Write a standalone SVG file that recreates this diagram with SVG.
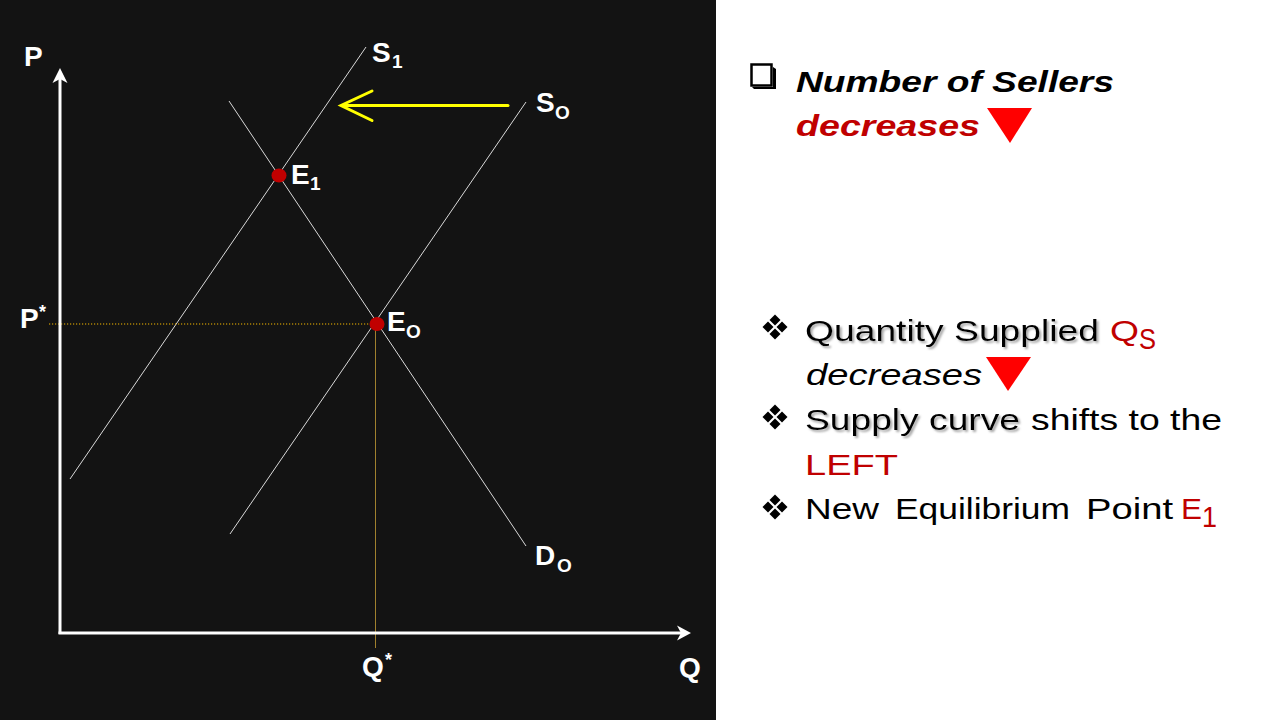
<svg xmlns="http://www.w3.org/2000/svg" width="1280" height="720" viewBox="0 0 1280 720">
  <defs>
    <style>
      .lbl { font-family: "Liberation Sans", Arial, sans-serif; font-weight: bold; fill: #ffffff; font-size: 28px; }
      .sub { font-size: 19px; }
      .star { font-size: 18px; }
      .curve { stroke: #d9d9d9; stroke-width: 1; fill: none; }
      .axis { stroke: #ffffff; stroke-width: 3; fill: none; }
      .txt { font-family: "Liberation Sans", Arial, sans-serif; font-size: 30px; fill: #000000; }
      .red { fill: #c00000; }
      .dot { fill: #c00000; }
    </style>
    <filter id="shadow" x="-5%" y="-20%" width="110%" height="150%">
      <feDropShadow dx="2" dy="2" stdDeviation="1" flood-color="#808080" flood-opacity="0.7"/>
    </filter>
    <g id="bullet">
      <polygon points="0,-12.5 5.5,-7 0,-1.5 -5.5,-7"/>
      <polygon points="-7,-5.5 -1.5,0 -7,5.5 -12.5,0"/>
      <polygon points="7,-5.5 12.5,0 7,5.5 1.5,0"/>
      <polygon points="0,1.5 5.5,7 0,12.5 -5.5,7"/>
    </g>
  </defs>

  <rect x="0" y="0" width="1280" height="720" fill="#ffffff"/>
  <rect id="chart-bg" x="0" y="0" width="716" height="720" fill="#131313"/>

  <g id="connectors">
    <line class="curve" id="S1" x1="70" y1="479" x2="366" y2="47"/>
    <line class="curve" id="S0" x1="230" y1="534" x2="526" y2="102"/>
    <line class="curve" id="D0" x1="229" y1="101" x2="526" y2="546"/>
    <line x1="49" y1="324" x2="377" y2="324" stroke="#f5b800" stroke-width="1.2" stroke-dasharray="1.2,1.8"/>
    <line x1="375.5" y1="324" x2="375.5" y2="648" stroke="#a0802e" stroke-width="1"/>
    <line class="axis" x1="60" y1="634" x2="60" y2="76"/>
    <path d="M60,68 L52.5,83 L60,79 L67.5,83 Z" fill="#ffffff"/>
    <line class="axis" x1="58.5" y1="633" x2="684" y2="633"/>
    <path d="M691,633 L677,625.5 L681,633 L677,640.5 Z" fill="#ffffff"/>
    <g id="shift-arrow" stroke="#ffff00" stroke-width="3" fill="none" stroke-linecap="round">
      <line x1="508" y1="105.5" x2="342" y2="105.5"/>
      <polyline points="372,91 341,105.5 372,120.5"/>
    </g>
  </g>

  <g id="E1">
    <ellipse class="dot" cx="279" cy="175.5" rx="7.5" ry="7"/>
    <text class="lbl" x="291" y="184">E<tspan class="sub" x="310" y="190">1</tspan></text>
  </g>
  <g id="E0">
    <ellipse class="dot" cx="377" cy="324" rx="7.5" ry="7"/>
    <text class="lbl" x="387" y="331">E<tspan class="sub" x="406" y="338">O</tspan></text>
  </g>
  <g id="label-P"><text class="lbl" x="24" y="66">P</text></g>
  <g id="label-S1"><text class="lbl" x="372" y="62">S<tspan class="sub" x="392" y="68">1</tspan></text></g>
  <g id="label-S0"><text class="lbl" x="536" y="112">S<tspan class="sub" x="555" y="119">O</tspan></text></g>
  <g id="label-D0"><text class="lbl" x="535" y="565">D<tspan class="sub" x="557" y="572">O</tspan></text></g>
  <g id="label-Pstar"><text class="lbl" x="20" y="328">P<tspan class="star" x="39" y="318">*</tspan></text></g>
  <g id="label-Qstar"><text class="lbl" x="362" y="676">Q<tspan class="star" x="385" y="666">*</tspan></text></g>
  <g id="label-Q"><text class="lbl" x="679" y="677">Q</text></g>

  <g id="heading">
    <rect x="751.5" y="64.5" width="20" height="21" fill="none" stroke="#000" stroke-width="2.5"/>
    <polygon points="773,67 776,69 776,89 754,89 752,87 773,87" fill="#000"/>
    <text class="txt" x="796" y="92" font-weight="bold" font-style="italic" textLength="318" lengthAdjust="spacingAndGlyphs">Number of Sellers</text>
    <text class="txt red" x="796" y="136" font-weight="bold" font-style="italic" textLength="184" lengthAdjust="spacingAndGlyphs">decreases</text>
    <polygon points="987,108 1032,108 1010,143" fill="#ff0000"/>
  </g>

  <g id="point-1">
    <use href="#bullet" x="775" y="327"/>
    <text class="txt" x="805" y="341" filter="url(#shadow)" textLength="294" lengthAdjust="spacingAndGlyphs">Quantity Supplied</text>
    <text class="txt red" x="1110" y="341" textLength="29" lengthAdjust="spacingAndGlyphs">Q</text>
    <text class="txt red" x="1139" y="349" font-size="20" textLength="17" lengthAdjust="spacingAndGlyphs">S</text>
    <text class="txt" x="806" y="385" font-style="italic" textLength="176" lengthAdjust="spacingAndGlyphs">decreases</text>
    <polygon points="986,357 1031,357 1008,391" fill="#ff0000"/>
  </g>
  <g id="point-2">
    <use href="#bullet" x="775" y="417"/>
    <text class="txt" x="805" y="430" filter="url(#shadow)" textLength="215" lengthAdjust="spacingAndGlyphs">Supply curve</text>
    <text class="txt" x="1031" y="430" textLength="191" lengthAdjust="spacingAndGlyphs">shifts to the</text>
    <text class="txt red" x="805" y="475" textLength="93" lengthAdjust="spacingAndGlyphs">LEFT</text>
  </g>
  <g id="point-3">
    <use href="#bullet" x="775" y="507"/>
    <text class="txt" x="805" y="519" textLength="74" lengthAdjust="spacingAndGlyphs">New</text>
    <text class="txt" x="895" y="519" textLength="175" lengthAdjust="spacingAndGlyphs">Equilibrium</text>
    <text class="txt" x="1086" y="519" textLength="87" lengthAdjust="spacingAndGlyphs">Point</text>
    <text class="txt red" x="1181" y="519" textLength="21" lengthAdjust="spacingAndGlyphs">E</text>
    <text class="txt red" x="1202" y="527" font-size="22" textLength="15" lengthAdjust="spacingAndGlyphs">1</text>
  </g>
</svg>
